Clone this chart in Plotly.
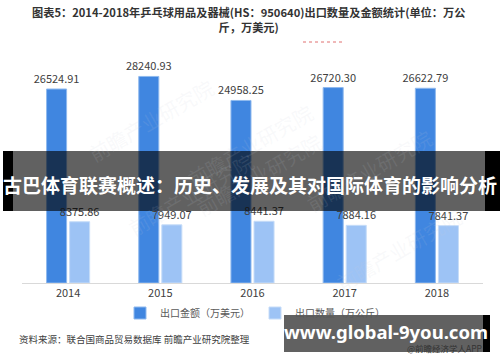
import plotly.graph_objects as go

years = ["2014", "2015", "2016", "2017", "2018"]
export_value = [26524.91, 28240.93, 24958.25, 26720.30, 26622.79]
export_qty = [8375.86, 7949.07, 8441.37, 7884.16, 7841.37]
value_labels = ["26524.91", "28240.93", "24958.25", "26720.30", "26622.79"]
qty_labels = ["8375.86", "7949.07", "8441.37", "7884.16", "7841.37"]
series_names = ["出口金额（万美元）", "出口数量（万公斤）"]

W, H = 500, 362
L, R, T, B = 22, 17, 43, 79
FONT = "Noto Sans CJK SC"


def px(x):
    return (x - L) / (W - L - R)


def py(y):
    return (H - B - y) / (H - T - B)


fig = go.Figure()
fig.add_trace(go.Bar(
    x=years, y=export_value, name=series_names[0],
    marker=dict(color="#4086e0", line=dict(color="#8fb9ee", width=1)),
    text=value_labels, textposition="outside", cliponaxis=False, constraintext="none",
    textfont=dict(size=11, color="#404040", family=FONT),
))
fig.add_trace(go.Bar(
    x=years, y=export_qty, name=series_names[1],
    marker=dict(color="#9dc3f5", line=dict(color="#c6dcf8", width=1)),
    text=qty_labels, textposition="outside", cliponaxis=False, constraintext="none",
    textfont=dict(size=11, color="#404040", family=FONT),
))

shapes = [
    # red dotted spell-check underline
    dict(type="line", xref="paper", yref="paper", x0=px(303), x1=px(345),
         y0=py(42), y1=py(42), line=dict(color="#e07070", width=1, dash="dot")),
    # top banner
    dict(type="rect", xref="paper", yref="paper", x0=px(13), x1=px(485),
         y0=py(211), y1=py(151), fillcolor="rgba(0,0,0,0.62)", line=dict(width=0), layer="above"),
    dict(type="rect", xref="paper", yref="paper", x0=px(3), x1=px(13),
         y0=py(211), y1=py(151), fillcolor="black", line=dict(width=0), layer="above"),
    dict(type="rect", xref="paper", yref="paper", x0=px(485), x1=px(500),
         y0=py(211), y1=py(151), fillcolor="black", line=dict(width=0), layer="above"),
    # bottom banner
    dict(type="rect", xref="paper", yref="paper", x0=px(284), x1=px(483),
         y0=py(352), y1=py(315), fillcolor="rgba(0,0,0,0.62)", line=dict(width=0), layer="above"),
    dict(type="rect", xref="paper", yref="paper", x0=px(483), x1=px(490),
         y0=py(352), y1=py(315), fillcolor="black", line=dict(width=0), layer="above"),
]

annotations = [
    dict(text="<b>图表5：2014-2018年乒乓球用品及器械(HS：950640)出口数量及金额统计(单位：万公<br>斤，万美元)</b>",
         xref="paper", yref="paper", x=px(248), y=py(20), xanchor="center", yanchor="middle",
         showarrow=False, align="center", font=dict(size=11.2, color="#333333", family=FONT)),
    dict(text="资料来源：联合国商品贸易数据库 前瞻产业研究院整理",
         xref="paper", yref="paper", x=px(17), y=py(339), xanchor="left", yanchor="middle",
         showarrow=False, font=dict(size=9.5, color="#404040", family=FONT)),
    dict(text="<b>古巴体育联赛概述：历史、发展及其对国际体育的影响分析</b>",
         xref="paper", yref="paper", x=px(250), y=py(184), xanchor="center", yanchor="middle",
         showarrow=False, font=dict(size=19, color="white", family=FONT)),
    dict(text="<b>www.global-9you.com</b>",
         xref="paper", yref="paper", x=px(386), y=py(331), xanchor="center", yanchor="middle",
         showarrow=False, font=dict(size=18.5, color="white", family="Noto Sans")),
    dict(text="@前瞻经济学人APP",
         xref="paper", yref="paper", x=px(484), y=py(348), xanchor="right", yanchor="middle",
         showarrow=False, font=dict(size=8.5, color="#333333", family=FONT)),
]

# faint watermarks
for (wx, wy) in [(80, 70), (250, 95), (440, 120), (120, 245), (330, 225), (470, 300)]:
    annotations.append(dict(text="前瞻产业研究院", xref="paper", yref="paper", x=px(wx), y=py(wy),
                            showarrow=False, textangle=-30,
                            font=dict(size=20, color="rgba(200,205,215,0.12)", family=FONT)))

fig.update_layout(
    width=W, height=H,
    margin=dict(l=L, r=R, t=T, b=B),
    paper_bgcolor="white", plot_bgcolor="white",
    barmode="group", bargap=0.5, bargroupgap=0.13,
    font=dict(family=FONT, color="#404040"),
    xaxis=dict(showline=True, linecolor="#d9d9d9", linewidth=1, ticks="",
               tickfont=dict(size=11, color="#404040"), showgrid=False),
    yaxis=dict(range=[0, 240 / 0.007314], visible=False, showgrid=False),
    legend=dict(orientation="h", x=px(255), xanchor="center", y=py(313), yanchor="middle",
                font=dict(size=10, color="#595959"), itemwidth=30,
                bgcolor="rgba(0,0,0,0)"),
    shapes=shapes, annotations=annotations,
)

fig.write_html("out.html")
